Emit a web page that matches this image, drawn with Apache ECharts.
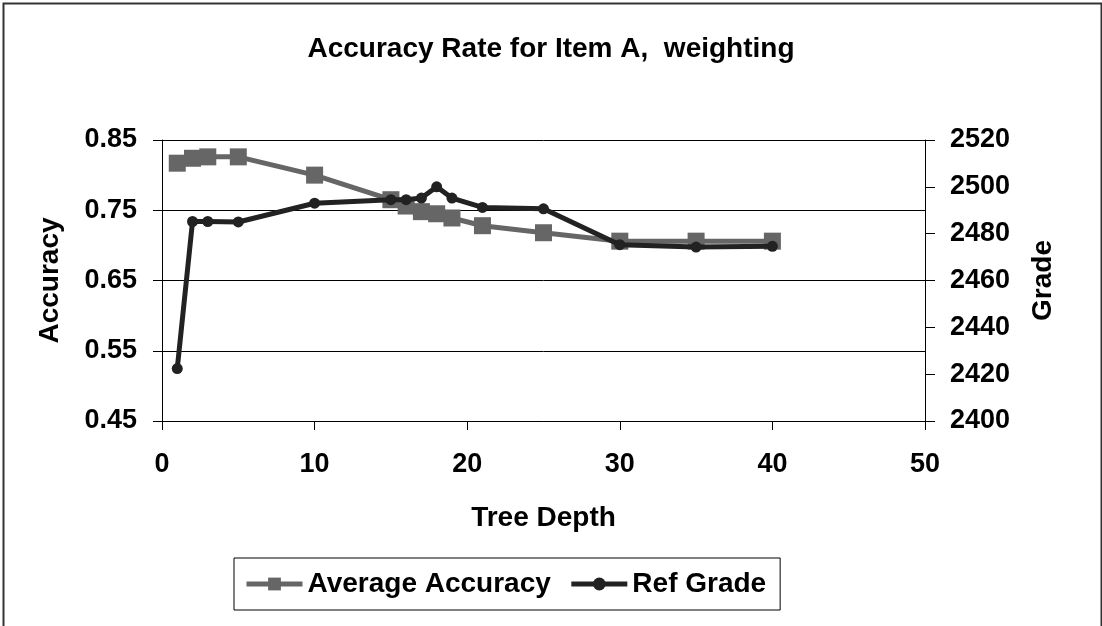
<!DOCTYPE html>
<html>
<head>
<meta charset="utf-8">
<script src="https://cdn.jsdelivr.net/npm/echarts@6/dist/echarts.min.js"></script>
<style>
html,body{margin:0;padding:0;background:#fff;}
#c{width:1102px;height:626px;}
</style>
</head>
<body>
<div id="c"></div>
<script>
var treeDepth = [1, 2, 3, 5, 10, 15, 16, 17, 18, 19, 21, 25, 30, 35, 40];
var averageAccuracy = [0.817, 0.824, 0.826, 0.826, 0.800, 0.765, 0.756, 0.748, 0.745, 0.739, 0.728, 0.718, 0.706, 0.706, 0.706];
var refGrade = [2422.4, 2485.2, 2485.2, 2485.0, 2493.0, 2494.5, 2494.5, 2495.2, 2500.0, 2495.2, 2491.2, 2490.6, 2475.3, 2474.3, 2474.6];
var seriesNames = ['Average Accuracy', 'Ref Grade'];
var titleText = 'Accuracy Rate for Item A,  weighting';

var FONT = '"Liberation Sans", Arial, sans-serif';
function pairs(xs, ys) { return xs.map(function (x, i) { return [x, ys[i]]; }); }

var chart = echarts.init(document.getElementById('c'), null, {renderer: 'canvas'});
chart.setOption({
  animation: false,
  backgroundColor: '#fff',
  graphic: [{
    type: 'rect', left: 1, top: 1, silent: true,
    shape: {x: 0, y: 0, width: 1098, height: 640},
    style: {fill: 'none', stroke: '#333', lineWidth: 2}
  }],
  title: {
    text: titleText, left: 'center', top: 30,
    textStyle: {fontFamily: FONT, fontWeight: 'bold', fontSize: 28, color: '#000'}
  },
  legend: {
    left: 234, top: 558,
    padding: [9, 14, 9, 10],
    itemGap: 18,
    itemWidth: 56, itemHeight: 16,
    borderColor: '#000', borderWidth: 1,
    lineStyle: {width: 5},
    textStyle: {fontFamily: FONT, fontWeight: 'bold', fontSize: 28, color: '#000', lineHeight: 34},
    data: [
      {name: seriesNames[0], itemStyle: {color: '#666'}},
      {name: seriesNames[1], itemStyle: {color: '#222'}}
    ]
  },
  grid: {left: 162, right: 177, top: 140, bottom: 205},
  xAxis: {
    type: 'value', min: 0, max: 50, interval: 10,
    name: 'Tree Depth', nameLocation: 'middle', nameGap: 83,
    nameTextStyle: {fontFamily: FONT, fontWeight: 'bold', fontSize: 28, color: '#000'},
    axisLine: {lineStyle: {color: '#000', width: 1}},
    axisTick: {show: true, inside: false, length: 9, lineStyle: {color: '#000'}},
    axisLabel: {fontFamily: FONT, fontWeight: 'bold', fontSize: 27, color: '#000', margin: 30},
    splitLine: {show: false}
  },
  yAxis: [{
    type: 'value', position: 'left', min: 0.45, max: 0.85, interval: 0.1,
    name: 'Accuracy', nameLocation: 'middle', nameGap: 98, nameRotate: 90,
    nameTextStyle: {fontFamily: FONT, fontWeight: 'bold', fontSize: 28, color: '#000'},
    axisLine: {show: true, lineStyle: {color: '#000', width: 1}},
    axisTick: {show: true, inside: false, length: 9, lineStyle: {color: '#000'}},
    axisLabel: {fontFamily: FONT, fontWeight: 'bold', fontSize: 27, color: '#000', margin: 25,
      formatter: function (v) { return v.toFixed(2); }},
    splitLine: {show: true, lineStyle: {color: '#000', width: 1}}
  }, {
    type: 'value', position: 'right', min: 2400, max: 2520, interval: 20,
    name: 'Grade', nameLocation: 'middle', nameGap: 104, nameRotate: 90,
    nameTextStyle: {fontFamily: FONT, fontWeight: 'bold', fontSize: 28, color: '#000'},
    axisLine: {show: true, lineStyle: {color: '#000', width: 1}},
    axisTick: {show: true, inside: false, length: 10, lineStyle: {color: '#000'}},
    axisLabel: {fontFamily: FONT, fontWeight: 'bold', fontSize: 27, color: '#000', margin: 25,
      formatter: function (v) { return String(Math.round(v)); }},
    splitLine: {show: false}
  }],
  series: [{
    name: seriesNames[0], type: 'line', yAxisIndex: 0,
    data: pairs(treeDepth, averageAccuracy),
    symbol: 'rect', symbolSize: 17,
    lineStyle: {color: '#666', width: 5},
    itemStyle: {color: '#666'},
    z: 2
  }, {
    name: seriesNames[1], type: 'line', yAxisIndex: 1,
    data: pairs(treeDepth, refGrade),
    symbol: 'circle', symbolSize: 11,
    lineStyle: {color: '#222', width: 5},
    itemStyle: {color: '#222'},
    z: 3
  }]
});
</script>
</body>
</html>
